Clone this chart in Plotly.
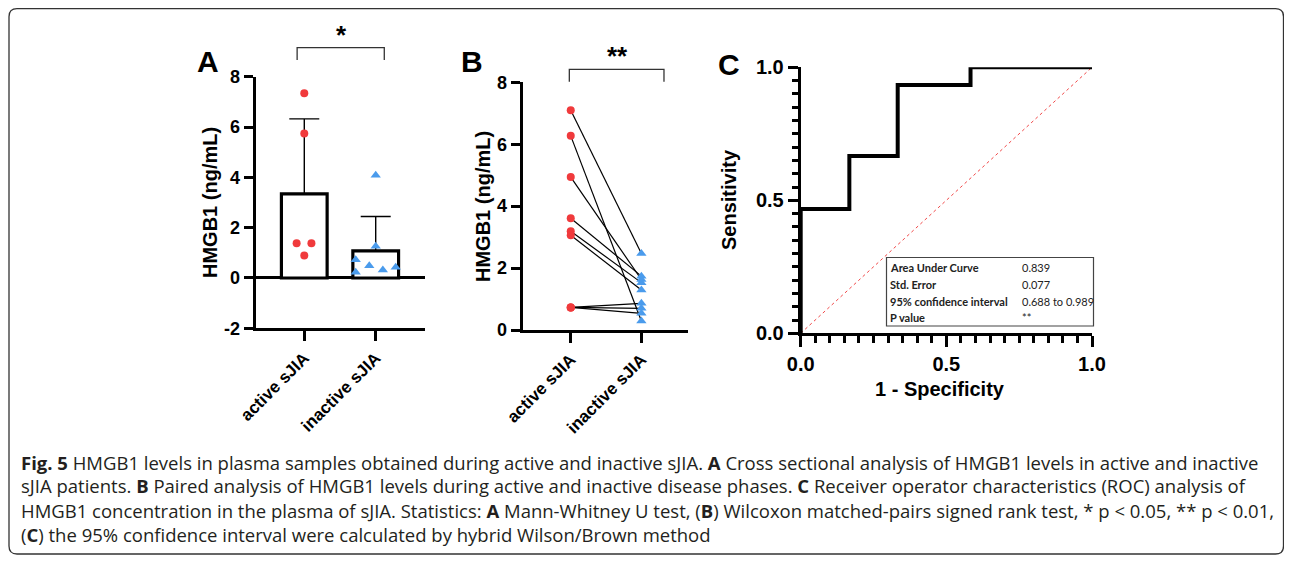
import numpy as np
import plotly.graph_objects as go

# page body has an 8px margin: keep the figure inside the window
OX, OY = 8, 8
W, H = 1284, 547

# ---------------- data ----------------
categories = ["active sJIA", "inactive sJIA"]

# Panel A (cross-sectional)
a_active = [7.34, 5.74, 1.38, 1.38, 0.89]
a_inactive = [4.08, 1.26, 0.72, 0.23, 0.49, 0.32, 0.43]
a_yticks = [-2, 0, 2, 4, 6, 8]

# Panel B (paired)
b_active = [7.10, 6.27, 4.94, 3.61, 3.19, 3.06, 0.73, 0.73, 0.73]
b_inactive = [2.47, 0.29, 1.63, 1.74, 1.53, 1.29, 0.86, 0.70, 0.54]
b_yticks = [0, 2, 4, 6, 8]

# Panel C (ROC)
roc_fpr = [0.0, 0.0, 0.167, 0.333, 0.583, 1.0]
roc_tpr = [0.0, 0.467, 0.667, 0.933, 1.0, 1.0]
roc_ticks = [0.0, 0.5, 1.0]
roc_table_labels = ["Area Under Curve", "Std. Error", "95% confidence interval", "P value"]
roc_table_values = ["0.839", "0.077", "0.688 to 0.989", "**"]

caption_lines = [
    "<b>Fig. 5</b> HMGB1 levels in plasma samples obtained during active and inactive sJIA. <b>A</b> Cross sectional analysis of HMGB1 levels in active and inactive",
    "sJIA patients. <b>B</b> Paired analysis of HMGB1 levels during active and inactive disease phases. <b>C</b> Receiver operator characteristics (ROC) analysis of",
    "HMGB1 concentration in the plasma of sJIA. Statistics: <b>A</b> Mann-Whitney U test, (<b>B</b>) Wilcoxon matched-pairs signed rank test, * p &lt; 0.05, ** p &lt; 0.01,",
    "(<b>C</b>) the 95% confidence interval were calculated by hybrid Wilson/Brown method",
]

# horizontal scatter offsets of the dots in panel A (layout only)
a_active_jitter = [0.0, 0.0, -0.107, 0.10, 0.0]
a_inactive_jitter = [0.0, 0.0, -0.28, -0.28, -0.09, 0.10, 0.28]

# ---------------- styles ----------------
RED = "#F03A3C"
BLUE = "#4A9BEC"
ARIAL = "Liberation Sans, Arial, sans-serif"
CAPT = "Open Sans, sans-serif"


def px(x):
    return (x - OX) / W


def py(y):
    return 1 - (y - OY) / H


fig = go.Figure()

# ---- Panel A ----
means = [float(np.mean(a_active)), float(np.mean(a_inactive))]
sds = [float(np.std(a_active, ddof=1)), float(np.std(a_inactive, ddof=1))]
fig.add_trace(go.Bar(
    x=[0, 1], y=means, width=0.64,
    marker=dict(color="white", line=dict(color="black", width=3.2)),
    error_y=dict(type="data", array=sds, arrayminus=[0, 0], symmetric=False,
                 color="black", thickness=1.4, width=15),
    xaxis="x", yaxis="y",
))
fig.add_trace(go.Scatter(
    x=[0 + j for j in a_active_jitter], y=a_active, mode="markers",
    marker=dict(color=RED, size=8, symbol="circle"), xaxis="x", yaxis="y", cliponaxis=False,
))
fig.add_trace(go.Scatter(
    x=[1 + j for j in a_inactive_jitter], y=a_inactive, mode="markers",
    marker=dict(color=BLUE, size=9, symbol="triangle-up"), xaxis="x", yaxis="y", cliponaxis=False,
))

# ---- Panel B ----
lx, ly = [], []
for a, b in zip(b_active, b_inactive):
    lx += [0, 1, None]
    ly += [a, b, None]
fig.add_trace(go.Scatter(x=lx, y=ly, mode="lines", line=dict(color="black", width=1.2),
                         xaxis="x2", yaxis="y2", cliponaxis=False))
fig.add_trace(go.Scatter(x=[0] * len(b_active), y=b_active, mode="markers",
                         marker=dict(color=RED, size=8), xaxis="x2", yaxis="y2", cliponaxis=False))
fig.add_trace(go.Scatter(x=[1] * len(b_inactive), y=b_inactive, mode="markers",
                         marker=dict(color=BLUE, size=9, symbol="triangle-up"),
                         xaxis="x2", yaxis="y2", cliponaxis=False))

# ---- Panel C ----
fig.add_trace(go.Scatter(x=[0, 1], y=[0, 1], mode="lines",
                         line=dict(color="#F04848", width=1, dash="dot"),
                         xaxis="x3", yaxis="y3", cliponaxis=False))
fig.add_trace(go.Scatter(x=roc_fpr, y=roc_tpr, mode="lines", line_shape="hv",
                         line=dict(color="black", width=4),
                         xaxis="x3", yaxis="y3", cliponaxis=False))

tickfont = dict(family=ARIAL, size=18, color="black", weight="bold")
common = dict(showgrid=False, showline=True, linecolor="black", linewidth=3,
              ticks="outside", tickcolor="black", tickwidth=3, zeroline=False,
              automargin=False)

fig.update_layout(
    width=W, height=H, margin=dict(l=0, r=0, t=0, b=0, pad=0, autoexpand=False),
    paper_bgcolor="white", plot_bgcolor="white", showlegend=False,
    xaxis=dict(domain=[px(255.7), px(425)], range=[-0.68, 1.69], tickvals=[0, 1],
               ticktext=categories, tickangle=-45, ticklen=10,
               tickfont=dict(family=ARIAL, size=17, color="black", weight="bold"),
               anchor="y", **common),
    yaxis=dict(domain=[py(328.3), py(76.7)], range=[-2, 8], tickvals=a_yticks,
               ticktext=[str(v) for v in a_yticks], ticklen=9, tickfont=tickfont,
               anchor="x", **{**common, "zeroline": True}, zerolinecolor="black", zerolinewidth=3),
    xaxis2=dict(domain=[px(522.7), px(688)], range=[-0.68, 1.66], tickvals=[0, 1],
                ticktext=categories, tickangle=-45, ticklen=10,
                tickfont=dict(family=ARIAL, size=17, color="black", weight="bold"),
                anchor="y2", **common),
    yaxis2=dict(domain=[py(330), py(82.3)], range=[0, 8], tickvals=b_yticks,
                ticktext=[str(v) for v in b_yticks], ticklen=9, tickfont=tickfont,
                anchor="x2", **common),
    xaxis3=dict(domain=[px(800.7), px(1092)], range=[0, 1], tickvals=roc_ticks,
                ticktext=[f"{v:.1f}" for v in roc_ticks], ticklen=11,
                tickfont=dict(family=ARIAL, size=20, color="black", weight="bold"),
                minor=dict(dtick=0.05, tick0=0, ticks="outside", ticklen=7, tickwidth=3,
                           tickcolor="black", showgrid=False),
                anchor="y3", **common),
    yaxis3=dict(domain=[py(333.3), py(67.3)], range=[0, 1], tickvals=roc_ticks,
                ticktext=[f"{v:.1f}" for v in roc_ticks], ticklen=10,
                tickfont=dict(family=ARIAL, size=20, color="black", weight="bold"),
                minor=dict(dtick=0.05, tick0=0, ticks="outside", ticklen=6, tickwidth=3,
                           tickcolor="black", showgrid=False),
                anchor="x3", **common),
)

ann = []
shapes = []


def text(x, y, s, size, bold=True, angle=0, xanchor="center", family=ARIAL, color="black"):
    ann.append(dict(x=px(x), y=py(y), xref="paper", yref="paper", text=s, showarrow=False,
                    xanchor=xanchor, yanchor="middle", textangle=angle,
                    font=dict(family=family, size=size, color=color,
                              weight="bold" if bold else "normal")))


# panel letters
text(208, 61, "A", 30)
text(472, 61, "B", 30)
text(729, 64, "C", 30)

# axis titles
text(210, 203, "HMGB1 (ng/mL)", 20, angle=-90)
text(483, 207, "HMGB1 (ng/mL)", 20, angle=-90)
text(729, 200, "Sensitivity", 20, angle=-90)
text(940, 389, "1 - Specificity", 20)

# significance brackets
for xr, x0, x1, ytop, ybot in [("x", -0.1, 1.12, 47.7, 60), ("x2", -0.02, 1.32, 69.3, 81.7)]:
    shapes.append(dict(type="path", xref=xr, yref="paper",
                       path=f"M {x0},{py(ybot)} L {x0},{py(ytop)} L {x1},{py(ytop)} L {x1},{py(ybot)}",
                       line=dict(color="#333", width=1.3)))
text(342, 35, "*", 26)
text(617, 56, "**", 26)

# ROC table box
shapes.append(dict(type="rect", xref="paper", yref="paper", x0=px(886.5), x1=px(1093.5),
                   y0=py(326), y1=py(257.5), line=dict(color="#444", width=1.2), fillcolor="white"))
row_y = [267.7, 284.3, 301, 317.7]
for yy, lab, val in zip(row_y, roc_table_labels, roc_table_values):
    text(888.5, yy, lab, 11, bold=True, xanchor="left", family="Lato, sans-serif", color="#222")
    text(1019.5, yy, val, 11, bold=False, xanchor="left", family="Lato, sans-serif", color="#222")

# caption
cap_y = [462, 486, 510, 534]
for yy, line in zip(cap_y, caption_lines):
    text(19, yy, line, 18.5, bold=False, xanchor="left", family=CAPT, color="#231F20")

# outer rounded frame
x0, x1, y0, y1, r = 9, 1283.5, 8.7, 554, 8
path = (f"M {px(x0 + r)},{py(y0)} L {px(x1 - r)},{py(y0)} Q {px(x1)},{py(y0)} {px(x1)},{py(y0 + r)} "
        f"L {px(x1)},{py(y1 - r)} Q {px(x1)},{py(y1)} {px(x1 - r)},{py(y1)} "
        f"L {px(x0 + r)},{py(y1)} Q {px(x0)},{py(y1)} {px(x0)},{py(y1 - r)} "
        f"L {px(x0)},{py(y0 + r)} Q {px(x0)},{py(y0)} {px(x0 + r)},{py(y0)} Z")
shapes.append(dict(type="path", xref="paper", yref="paper", path=path,
                   line=dict(color="#333", width=1.3), layer="below"))

fig.update_layout(annotations=ann, shapes=shapes)
fig.write_html("out.html")
